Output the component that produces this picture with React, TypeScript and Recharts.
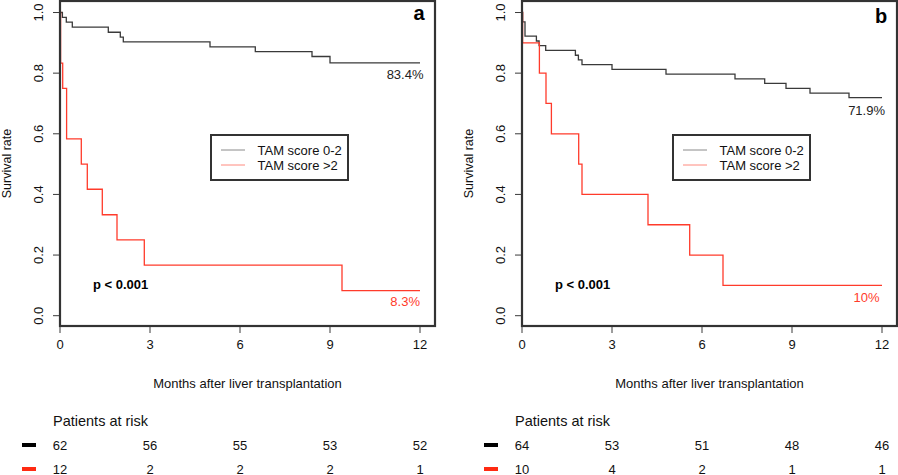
import { LineChart, Line, XAxis, YAxis, Legend, Label } from "recharts";

const FONT = "'Liberation Sans', Arial, Helvetica, sans-serif";
const DARK = "#3a3a3a";
const FRAME = "#333333";
const RED = "#ff3b2b";

const monthTicks = [0, 3, 6, 9, 12];
const survivalTicks = [0, 0.2, 0.4, 0.6, 0.8, 1.0];
const seriesNames = ["TAM score 0-2", "TAM score >2"];

// panel a
const monthsA_low = [0, 0.08, 0.21, 0.41, 1.61, 2.01, 2.11, 5.0, 6.51, 8.4, 9.0, 12];
const survA_low = [1, 0.984, 0.968, 0.952, 0.935, 0.919, 0.903, 0.887, 0.871, 0.855, 0.834, 0.834];
const monthsA_high = [0, 0.02, 0.09, 0.22, 0.71, 0.91, 1.41, 1.9, 2.81, 9.4, 12];
const survA_high = [1, 0.833, 0.75, 0.583, 0.5, 0.417, 0.333, 0.25, 0.167, 0.083, 0.083];
const riskA_low = [62, 56, 55, 53, 52];
const riskA_high = [12, 2, 2, 2, 1];

// panel b
const monthsB_low = [0, 0.02, 0.1, 0.48, 0.57, 0.79, 1.78, 1.88, 2.0, 3.0, 4.8, 7.1, 8.09, 8.8, 9.6, 10.9, 12];
const survB_low = [1, 0.969, 0.922, 0.906, 0.891, 0.875, 0.859, 0.844, 0.828, 0.8125, 0.797, 0.781, 0.766, 0.75, 0.734, 0.719, 0.719];
const monthsB_high = [0, 0.02, 0.58, 0.8, 0.98, 1.89, 2.0, 4.2, 5.59, 6.7, 12];
const survB_high = [1, 0.9, 0.8, 0.7, 0.6, 0.5, 0.4, 0.3, 0.2, 0.1, 0.1];
const riskB_low = [64, 53, 51, 48, 46];
const riskB_high = [10, 4, 2, 1, 1];

const toSteps = (months: number[], surv: number[]) =>
  months.map((m, i) => ({ month: m, surv: surv[i] }));

const X_DOMAIN = [0, 12.5];
const Y_DOMAIN = [-0.034, 1.038];

// plot area inside each panel (the box is drawn round it)
const PLOT = { left: 60, top: 1, width: 375, height: 325 };

type PanelProps = {
  left: number;
  width: number;
  letter: string;
  letterY: number;
  low: { month: number; surv: number }[];
  high: { month: number; surv: number }[];
  riskLow: number[];
  riskHigh: number[];
  lowPct: string;
  highPct: string;
  lowPctPos: [number, number];
  highPctPos: [number, number];
};

function LegendBox() {
  return (
    <svg width={139} height={47} style={{ display: "block" }}>
      <rect x={1} y={1} width={137} height={45} fill="#fff" stroke={FRAME} strokeWidth={2} />
      <line x1={11} x2={35} y1={16} y2={16} stroke="#8a8a8a" strokeWidth={1} />
      <line x1={11} x2={35} y1={31} y2={31} stroke="#ff8a7e" strokeWidth={1} />
      <text x={47.5} y={20.5} fontSize={13} fontFamily={FONT} fill="#111">{seriesNames[0]}</text>
      <text x={47.5} y={35.5} fontSize={13} fontFamily={FONT} fill="#111">{seriesNames[1]}</text>
    </svg>
  );
}

function Panel(p: PanelProps) {
  const marginRight = p.width - PLOT.left - PLOT.width;
  return (
    <div style={{ position: "absolute", left: p.left, top: 0, width: p.width, height: 475 }}>
      <LineChart
        width={p.width}
        height={475}
        margin={{ top: PLOT.top, right: marginRight, bottom: 0, left: 0 }}
      >
        <XAxis
          type="number"
          dataKey="month"
          domain={X_DOMAIN}
          ticks={monthTicks}
          interval={0}
          allowDataOverflow
          axisLine={false}
          tickLine={{ stroke: DARK }}
          tickSize={7}
          tickMargin={0}
          height={475 - PLOT.top - PLOT.height}
          tick={(t: any) => {
            const i = monthTicks.indexOf(t.payload.value);
            return (
              <g>
                <text x={t.x} y={t.y + 16} textAnchor="middle" fontSize={13} fontFamily={FONT} fill="#111">
                  {t.payload.value}
                </text>
                <text x={t.x} y={t.y + 116.5} textAnchor="middle" fontSize={13} fontFamily={FONT} fill="#111">
                  {p.riskLow[i]}
                </text>
                <text x={t.x} y={t.y + 140.5} textAnchor="middle" fontSize={13} fontFamily={FONT} fill="#111">
                  {p.riskHigh[i]}
                </text>
              </g>
            );
          }}
        >
          <Label
            content={(l: any) => (
              <text
                x={l.viewBox.x + l.viewBox.width / 2}
                y={388}
                textAnchor="middle"
                fontSize={13}
                fontFamily={FONT}
                fill="#111"
              >
                Months after liver transplantation
              </text>
            )}
          />
        </XAxis>
        <YAxis
          type="number"
          domain={Y_DOMAIN}
          ticks={survivalTicks}
          interval={0}
          allowDataOverflow
          width={PLOT.left}
          axisLine={false}
          tickLine={{ stroke: DARK }}
          tickSize={7}
          tickMargin={0}
          tick={(t: any) => (
            <text
              transform={`translate(${t.x - 10.5},${t.y}) rotate(-90)`}
              textAnchor="middle"
              fontSize={13}
              fontFamily={FONT}
              fill="#111"
            >
              {Number(t.payload.value).toFixed(1)}
            </text>
          )}
        >
          <Label
            content={(l: any) => (
              <text
                transform={`translate(11,${l.viewBox.y + l.viewBox.height / 2}) rotate(-90)`}
                textAnchor="middle"
                fontSize={12.5}
                fontFamily={FONT}
                fill="#111"
              >
                Survival rate
              </text>
            )}
          />
        </YAxis>
        <Line
          data={p.low}
          dataKey="surv"
          name={seriesNames[0]}
          type="stepAfter"
          stroke={DARK}
          strokeWidth={1.3}
          dot={false}
          isAnimationActive={false}
        />
        <Line
          data={p.high}
          dataKey="surv"
          name={seriesNames[1]}
          type="stepAfter"
          stroke={RED}
          strokeWidth={1.3}
          dot={false}
          isAnimationActive={false}
        />
        <Legend
          layout="horizontal"
          verticalAlign="middle"
          align="center"
          wrapperStyle={{ position: "absolute", left: 210, top: 134, width: 139, height: 47 }}
          content={() => <LegendBox />}
        />
      </LineChart>
      <svg
        width={p.width}
        height={475}
        style={{ position: "absolute", left: 0, top: 0, pointerEvents: "none" }}
      >
        <rect
          x={PLOT.left}
          y={PLOT.top}
          width={PLOT.width}
          height={PLOT.height}
          fill="none"
          stroke={FRAME}
          strokeWidth={2.2}
        />
        <text x={419} y={p.letterY} textAnchor="middle" fontSize={20} fontWeight="bold" fontFamily={FONT} fill="#000">
          {p.letter}
        </text>
        <text x={p.highPctPos[0]} y={p.highPctPos[1]} textAnchor="end" fontSize={13} fontFamily={FONT} fill="#222">
          {p.highPct}
        </text>
        <text x={p.lowPctPos[0]} y={p.lowPctPos[1]} textAnchor="end" fontSize={13} fontFamily={FONT} fill={RED}>
          {p.lowPct}
        </text>
        <text x={93} y={289} fontSize={13} fontWeight="bold" fontFamily={FONT} fill="#000">
          p &lt; 0.001
        </text>
        <text x={53} y={426} fontSize={14.5} fontFamily={FONT} fill="#111">
          Patients at risk
        </text>
        <rect x={22} y={443} width={14} height={4} fill="#000" />
        <rect x={22} y={467} width={14} height={4} fill="#ff2a12" />
      </svg>
    </div>
  );
}

export default function App() {
  return (
    <div style={{ position: "absolute", left: 0, top: 0, width: 898, height: 475, background: "#fff" }}>
      <Panel
        left={0}
        width={450}
        letter="a"
        letterY={20}
        low={toSteps(monthsA_low, survA_low)}
        high={toSteps(monthsA_high, survA_high)}
        riskLow={riskA_low}
        riskHigh={riskA_high}
        highPct="83.4%"
        lowPct="8.3%"
        highPctPos={[423.5, 78.5]}
        lowPctPos={[420, 305.5]}
      />
      <Panel
        left={462}
        width={436}
        letter="b"
        letterY={22.5}
        low={toSteps(monthsB_low, survB_low)}
        high={toSteps(monthsB_high, survB_high)}
        riskLow={riskB_low}
        riskHigh={riskB_high}
        highPct="71.9%"
        lowPct="10%"
        highPctPos={[423, 115]}
        lowPctPos={[417.5, 302]}
      />
    </div>
  );
}
